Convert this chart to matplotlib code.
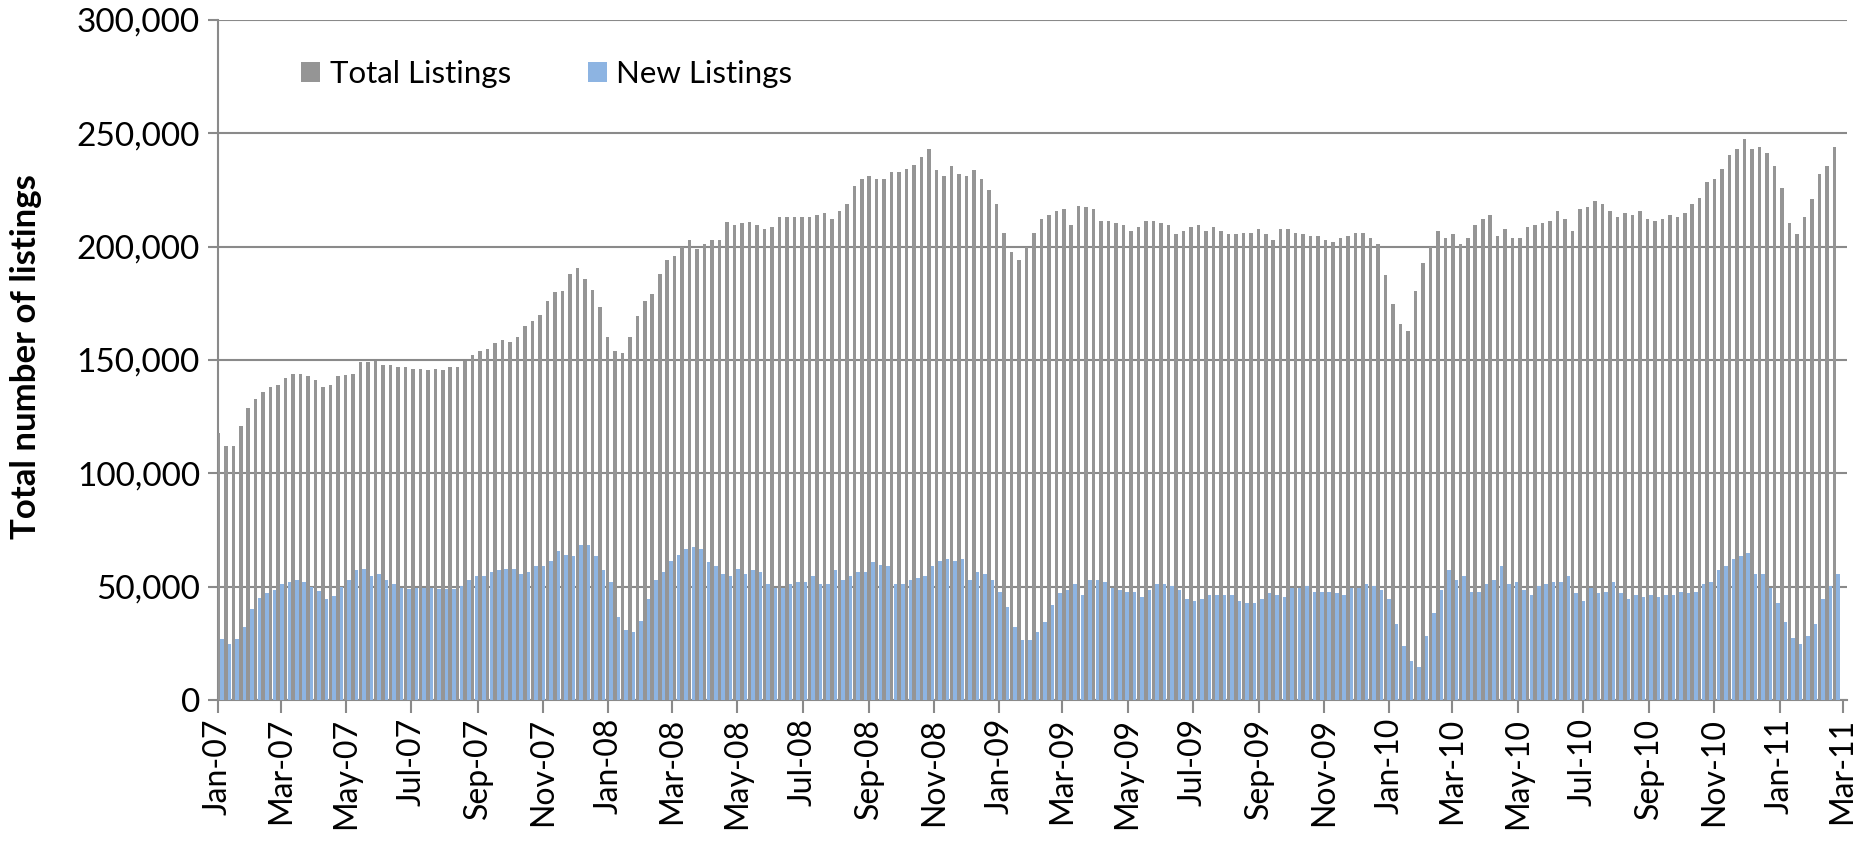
import matplotlib
matplotlib.use("Agg")
import matplotlib.pyplot as plt
import matplotlib.dates as mdates
import matplotlib.ticker as mticker
import numpy as np
import pandas as pd

# weekly values, in thousands of listings
total_listings = [
    118, 112, 112, 121, 129, 133, 136, 138, 139, 142, 144, 144, 143, 141, 138, 139, 143,
    143.5, 144, 149, 149, 149.5, 148, 148, 147, 147, 146, 146, 145.5, 146, 145.5, 147, 147, 149.5, 152, 154,
    155, 157.5, 159, 158, 160, 165, 167, 170, 176, 180, 180.5, 188, 190.7, 185.6, 181, 173.5, 160, 154,
    153, 160, 169.6, 176, 179, 188, 194, 196, 200, 203, 199, 201, 203, 203, 211, 209.7, 210.5, 211,
    209.7, 207.9, 208.7, 213, 213, 213, 213, 213, 214, 214.7, 212, 215.6, 219, 226.7, 230, 231, 230, 230,
    232.8, 232.8, 234.4, 236, 239.6, 243, 233.6, 231, 235.4, 232, 231, 233.6, 230, 225, 219, 206, 197.5, 194.3,
    200, 206, 212, 214, 215.6, 216.4, 209.7, 218, 217.4, 216.4, 211.3, 211.3, 210.5, 209.7, 207, 208.7, 211.3, 211.3, 210.5,
    209.7, 205.4, 207, 208.7, 209.7, 207, 208.7, 207, 205.4, 205.4, 206, 206, 207.9, 205.4, 202.8, 207.9, 207.9, 206,
    205.4, 204.6, 204.6, 202.8, 202, 203.6, 204.6, 206, 206, 203.6, 201.2, 187.6, 174.7, 166, 162.7, 180.5, 192.7, 200,
    207, 203.6, 205.4, 201, 203.6, 209.7, 212, 214, 204.6, 207.9, 203.6, 203.6, 208.7, 209.7, 210.5, 211.3, 215.6, 212, 207,
    216.6, 217.4, 220, 219, 215.6, 213, 214.7, 214, 215.6, 212, 211.3, 212, 214, 213, 214.7, 219, 221.6, 228.5,
    230, 234.4, 240.5, 243, 247.3, 243, 243.9, 241.5, 235.4, 225.9, 210.5, 205.4, 213.1, 220.8, 232, 235.4, 243.9,
]
new_listings = [
    27, 24.5, 27, 32, 40, 45, 47, 48.5, 51, 52, 53, 52, 50, 48, 44.5, 46, 50,
    52.8, 57.3, 58, 54.6, 55.5, 52.8, 51.2, 49.6, 48.8, 49.6, 49.6, 49.6, 48.8, 48.8, 48.8, 50.4, 52.8, 54.6, 54.6,
    56.5, 57.3, 58, 58, 55.5, 56.5, 59, 59, 61.5, 65.8, 64, 63.4, 68.4, 68.4, 63.4, 57.3, 52, 36.6,
    30.8, 30, 35, 44.5, 52.8, 56.5, 61.5, 64, 66.8, 67.6, 66.8, 60.7, 59, 55.5, 54.6, 58, 55.5, 57.3,
    56.5, 51.2, 49.6, 49.6, 51.2, 52, 52, 54.6, 51.2, 51.2, 57.3, 52.8, 54.6, 56.5, 56.5, 60.7, 59.7, 59,
    51.2, 51.2, 52.8, 53.8, 54.6, 59, 61.5, 62.3, 61.5, 62.3, 52.8, 56.5, 55.5, 52.8, 47.8, 40.9, 32.4, 26.5,
    26.5, 30, 34.2, 41.9, 47, 48.6, 51.2, 46.1, 52.8, 52.8, 52, 49.6, 48.6, 47.8, 47.8, 45.3, 48.6, 51.2, 51.2,
    50.4, 48.6, 44.5, 43.5, 44.5, 46.1, 46.1, 46.1, 46.1, 43.5, 42.7, 42.7, 44.5, 47, 46.1, 45.3, 49.6, 49.6,
    50.4, 47.8, 47.8, 47.8, 47, 46.1, 49.6, 49.6, 51.2, 50.4, 48.6, 44.5, 33.4, 23.9, 17.2, 14.6, 28.1, 38.5,
    48.6, 57.3, 52.8, 54.6, 47.8, 47.8, 51.2, 52.8, 59, 51.2, 52, 48.6, 46.1, 50.4, 51.2, 52, 52, 54.6, 47,
    43.5, 49.6, 47, 47.8, 52, 47, 44.5, 46.1, 45.3, 46.1, 45.3, 46.1, 46.1, 47.8, 47, 47.8, 51.2, 52,
    57.3, 59, 62.3, 63.4, 65, 55.5, 55.5, 49.6, 42.7, 34.2, 27.3, 24.7, 28.1, 33.4, 44.5, 50.4, 55.5,
]
n = min(len(total_listings), len(new_listings))
weeks = pd.date_range("2007-01-03", periods=n, freq="7D")
total = np.array(total_listings[:n]) * 1000
new = np.array(new_listings[:n]) * 1000

GRAY = "#959595"
BLUE = "#8db4e2"
GRID = "#8a8a8a"

plt.rcParams["font.family"] = ["Lato", "DejaVu Sans"]

fig = plt.figure(figsize=(18.68, 8.46), dpi=100)
ax = fig.add_axes([0.1167, 0.1726, 0.872, 0.8038])

x = mdates.date2num(weeks)
ax.bar(x - 1.7, total, width=3.3, color=GRAY, label="Total Listings", zorder=3)
ax.bar(x + 1.7, new, width=3.3, color=BLUE, label="New Listings", zorder=3)

ax.set_ylim(0, 300000)
ax.set_xlim(mdates.date2num(pd.Timestamp("2007-01-01")), mdates.date2num(pd.Timestamp("2011-03-05")))
ax.yaxis.set_major_locator(mticker.MultipleLocator(50000))
ax.yaxis.set_major_formatter(mticker.FuncFormatter(lambda v, p: f"{int(v):,}"))
ax.grid(axis="y", color=GRID, linewidth=1.5, zorder=0)

ax.xaxis.set_major_locator(mdates.MonthLocator(bymonth=[1, 3, 5, 7, 9, 11]))
ax.xaxis.set_major_formatter(mdates.DateFormatter("%b-%y"))
plt.setp(ax.get_xticklabels(), rotation=90, ha="center")

ax.tick_params(axis="y", labelsize=24, length=7, color=GRID, width=1.5, pad=6)
ax.tick_params(axis="x", labelsize=23, length=9, color=GRID, width=1.5, pad=4)

for side in ["top", "right"]:
    ax.spines[side].set_visible(False)
for side in ["left", "bottom"]:
    ax.spines[side].set_color(GRID)
    ax.spines[side].set_linewidth(1.5)

ax.set_ylabel("Total number of listings", fontsize=25, fontweight="bold")
ax.yaxis.set_label_coords(-0.108, 0.505)

ax.legend(loc="center left", bbox_to_anchor=(0.051, 0.921), ncol=2, frameon=False,
          borderaxespad=0, borderpad=0,
          fontsize=22.5, handlelength=0.62, handleheight=0.62, columnspacing=2.45, handletextpad=0.3)

fig.savefig("out.png", dpi=100)
